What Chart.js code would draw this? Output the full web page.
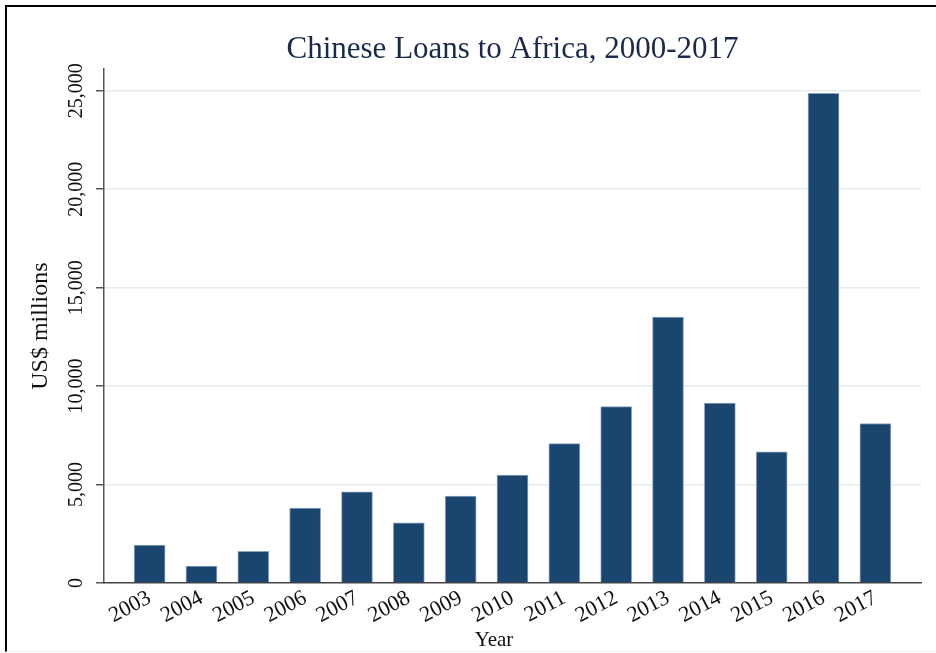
<!DOCTYPE html>
<html>
<head>
<meta charset="utf-8">
<script src="https://cdn.jsdelivr.net/npm/chart.js@4/dist/chart.umd.min.js"></script>
<style>
  html, body { margin: 0; padding: 0; background: #fff; }
  #wrap { position: relative; width: 936px; height: 653px; overflow: hidden; }
  #frame { position: absolute; left: 5px; top: 5px; right: -10px; bottom: 1px;
           border-left: 2px solid #000; border-top: 2px solid #000;
           border-bottom: 1px solid #eceef4; pointer-events: none; }
</style>
</head>
<body>
<div id="wrap">
  <canvas id="loansChart" width="936" height="653"></canvas>
  <div id="frame"></div>
</div>
<script>
const years = [2003, 2004, 2005, 2006, 2007, 2008, 2009, 2010, 2011, 2012, 2013, 2014, 2015, 2016, 2017];
const loans = [1920, 860, 1610, 3800, 4630, 3050, 4420, 5480, 7080, 8960, 13500, 9140, 6660, 24870, 8100];
const yTicks = [0, 5000, 10000, 15000, 20000, 25000];

const serif = "'Liberation Serif', 'Times New Roman', serif";
const ctx = document.getElementById("loansChart").getContext("2d");

// y tick labels are drawn rotated, like the original
const rotatedYLabels = {
    id: "rotatedYLabels",
    afterDraw(chart) {
        const y = chart.scales.y;
        const c = chart.ctx;
        c.save();
        c.fillStyle = "#111";
        c.font = "20px " + serif;
        c.textAlign = "center";
        c.textBaseline = "middle";
        yTicks.forEach(function (v) {
            const py = y.getPixelForValue(v);
            c.save();
            c.translate(77, py);
            c.rotate(-Math.PI / 2);
            c.fillText(v.toLocaleString("en-US"), 0, 0);
            c.restore();
        });
        // x axis title
        c.font = "21px " + serif;
        c.fillText("Year", 494, 640);
        c.restore();
    }
};

let loansChart = new Chart(ctx, {
    type: "bar",
    data: {
        datasets: [{
            label: "US$ millions",
            data: years.map((yr, i) => ({ x: yr, y: loans[i] })),
            backgroundColor: "#1a456f",
            borderColor: "#8ea4bd",
            borderWidth: { top: 1, left: 1, right: 1, bottom: 0 },
            barThickness: 31
        }]
    },
    options: {
        responsive: false,
        animation: false,
        layout: { padding: { left: 0, right: 15, top: 0, bottom: 0 } },
        plugins: {
            legend: { display: false },
            tooltip: { enabled: false },
            title: {
                display: true,
                fullSize: false,
                text: "Chinese Loans to Africa, 2000-2017",
                color: "#1b2a4a",
                font: { family: serif, size: 31, weight: "normal", lineHeight: 1.1 },
                padding: { top: 33, bottom: 2 }
            }
        },
        scales: {
            x: {
                type: "linear",
                offset: false,
                min: 2002.12,
                max: 2017.88,
                grid: { display: false, drawTicks: false },
                border: { display: true, color: "#444", width: 1.5 },
                afterBuildTicks: function (s) {
                    s.ticks = years.map(v => ({ value: v }));
                },
                ticks: {
                    autoSkip: false,
                    minRotation: 28,
                    maxRotation: 28,
                    padding: 2,
                    color: "#111",
                    font: { family: serif, size: 22 },
                    callback: function (v) { return String(v); }
                },
                afterFit: function (s) {
                    s.height = 70;
                    s.paddingLeft = 0;
                    s.paddingRight = 0;
                }
            },
            y: {
                min: 0,
                max: 26100,
                afterBuildTicks: function (s) {
                    s.ticks = yTicks.map(v => ({ value: v }));
                },
                grid: {
                    color: function (c) { return c.tick && c.tick.value === 0 ? "rgba(0,0,0,0)" : "#e3ecee"; },
                    lineWidth: 1.5,
                    tickColor: "#555",
                    tickLength: 8
                },
                border: { display: true, color: "#555", width: 1.5 },
                ticks: { display: false },
                title: {
                    display: true,
                    text: "US$ millions",
                    color: "#111",
                    font: { family: serif, size: 24 },
                    padding: { top: 26, bottom: 0 }
                },
                afterFit: function (s) {
                    s.width = 104;
                }
            }
        }
    },
    plugins: [rotatedYLabels]
});
</script>
</body>
</html>
